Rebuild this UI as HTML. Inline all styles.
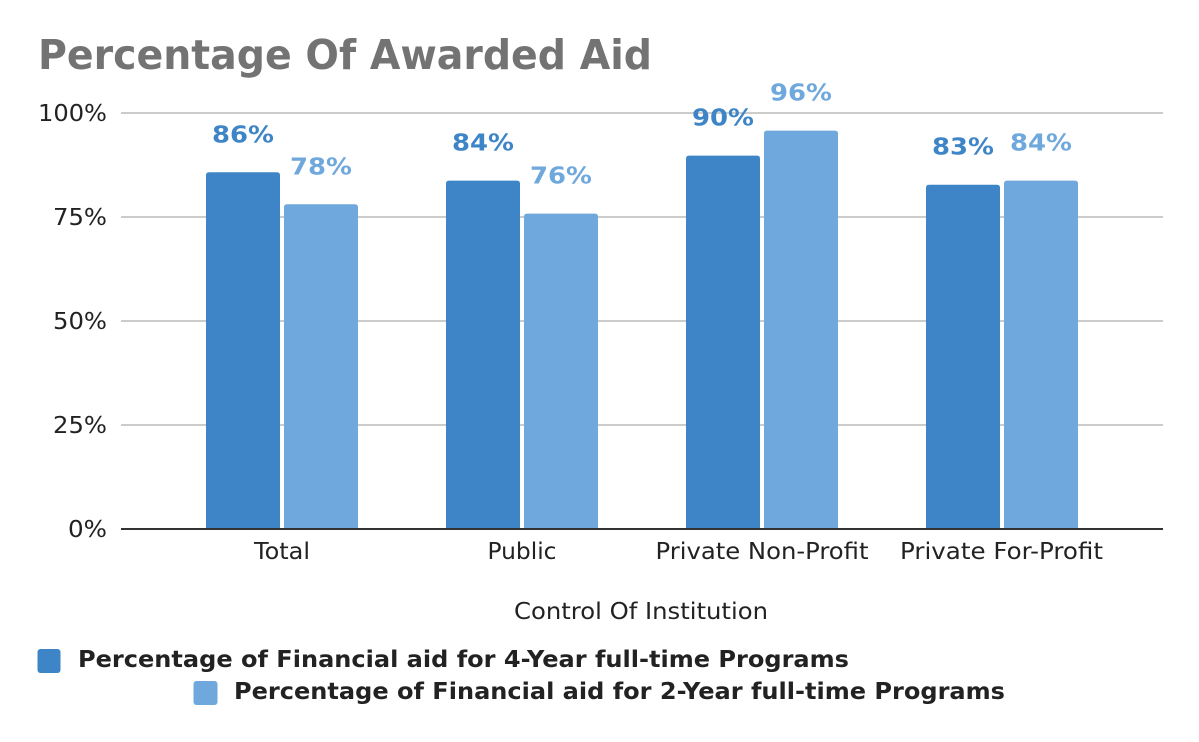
<!DOCTYPE html>
<html>
<head>
<meta charset="utf-8">
<style>
  html, body { margin: 0; padding: 0; background: #ffffff; }
  svg { display: block; }
  text { font-family: "DejaVu Sans", "Liberation Sans", sans-serif; }
</style>
</head>
<body>
<svg width="1199" height="742" viewBox="0 0 1199 742" xmlns="http://www.w3.org/2000/svg">
  <rect x="0" y="0" width="1199" height="742" fill="#ffffff"/>

  <!-- Title -->
  <text x="38" y="69" font-size="41" font-weight="bold" fill="#737373" textLength="614" lengthAdjust="spacingAndGlyphs">Percentage Of Awarded Aid</text>

  <!-- Gridlines -->
  <g stroke="#cccccc" stroke-width="2">
    <line x1="121" y1="113" x2="1163" y2="113"/>
    <line x1="121" y1="217" x2="1163" y2="217"/>
    <line x1="121" y1="321" x2="1163" y2="321"/>
    <line x1="121" y1="425" x2="1163" y2="425"/>
  </g>

  <!-- Y tick labels -->
  <g font-size="23" fill="#222222" text-anchor="end">
    <text x="107" y="121" textLength="69" lengthAdjust="spacingAndGlyphs">100%</text>
    <text x="107" y="225" textLength="54" lengthAdjust="spacingAndGlyphs">75%</text>
    <text x="107" y="329" textLength="54" lengthAdjust="spacingAndGlyphs">50%</text>
    <text x="107" y="433" textLength="54" lengthAdjust="spacingAndGlyphs">25%</text>
    <text x="107" y="537" textLength="39" lengthAdjust="spacingAndGlyphs">0%</text>
  </g>

  <!-- Bars (4-Year, dark) -->
  <g fill="#3d85c6">
    <path d="M206,529 V175.3 Q206,172.3 209,172.3 H277 Q280,172.3 280,175.3 V529 Z"/>
    <path d="M446,529 V183.6 Q446,180.6 449,180.6 H517 Q520,180.6 520,183.6 V529 Z"/>
    <path d="M686,529 V158.6 Q686,155.6 689,155.6 H757 Q760,155.6 760,158.6 V529 Z"/>
    <path d="M926,529 V187.7 Q926,184.7 929,184.7 H997 Q1000,184.7 1000,187.7 V529 Z"/>
  </g>
  <!-- Bars (2-Year, light) -->
  <g fill="#6fa8dc">
    <path d="M284,529 V207.3 Q284,204.3 287,204.3 H355 Q358,204.3 358,207.3 V529 Z"/>
    <path d="M524,529 V216.6 Q524,213.6 527,213.6 H595 Q598,213.6 598,216.6 V529 Z"/>
    <path d="M764,529 V133.6 Q764,130.6 767,130.6 H835 Q838,130.6 838,133.6 V529 Z"/>
    <path d="M1004,529 V183.6 Q1004,180.6 1007,180.6 H1075 Q1078,180.6 1078,183.6 V529 Z"/>
  </g>

  <!-- Data labels -->
  <g font-size="23" font-weight="bold" text-anchor="middle">
    <text x="243" y="142.5" fill="#3d85c6" textLength="62" lengthAdjust="spacingAndGlyphs">86%</text>
    <text x="321" y="174.5" fill="#6fa8dc" textLength="62" lengthAdjust="spacingAndGlyphs">78%</text>
    <text x="483" y="150.5" fill="#3d85c6" textLength="62" lengthAdjust="spacingAndGlyphs">84%</text>
    <text x="561" y="183.5" fill="#6fa8dc" textLength="62" lengthAdjust="spacingAndGlyphs">76%</text>
    <text x="723" y="125.5" fill="#3d85c6" textLength="62" lengthAdjust="spacingAndGlyphs">90%</text>
    <text x="801" y="100.5" fill="#6fa8dc" textLength="62" lengthAdjust="spacingAndGlyphs">96%</text>
    <text x="963" y="154.5" fill="#3d85c6" textLength="62" lengthAdjust="spacingAndGlyphs">83%</text>
    <text x="1041" y="150.5" fill="#6fa8dc" textLength="62" lengthAdjust="spacingAndGlyphs">84%</text>
  </g>

  <!-- X axis baseline -->
  <line x1="121" y1="529" x2="1163" y2="529" stroke="#333333" stroke-width="2"/>

  <!-- Category labels -->
  <g font-size="23" fill="#222222" text-anchor="middle">
    <text x="282" y="559" textLength="56" lengthAdjust="spacingAndGlyphs">Total</text>
    <text x="522" y="559" textLength="69" lengthAdjust="spacingAndGlyphs">Public</text>
    <text x="762" y="559" textLength="213" lengthAdjust="spacingAndGlyphs">Private Non-Profit</text>
    <text x="1001.5" y="559" textLength="203" lengthAdjust="spacingAndGlyphs">Private For-Profit</text>
  </g>

  <!-- Axis title -->
  <text x="641" y="619" font-size="23" fill="#222222" text-anchor="middle" textLength="254" lengthAdjust="spacingAndGlyphs">Control Of Institution</text>

  <!-- Legend -->
  <rect x="37.5" y="649" width="23" height="24" rx="3" fill="#3d85c6"/>
  <text x="78" y="667" font-size="23" font-weight="bold" fill="#222222" textLength="771" lengthAdjust="spacingAndGlyphs">Percentage of Financial aid for 4-Year full-time Programs</text>
  <rect x="193.5" y="681" width="24" height="24" rx="3" fill="#6fa8dc"/>
  <text x="234" y="699" font-size="23" font-weight="bold" fill="#222222" textLength="771" lengthAdjust="spacingAndGlyphs">Percentage of Financial aid for 2-Year full-time Programs</text>
</svg>
</body>
</html>
